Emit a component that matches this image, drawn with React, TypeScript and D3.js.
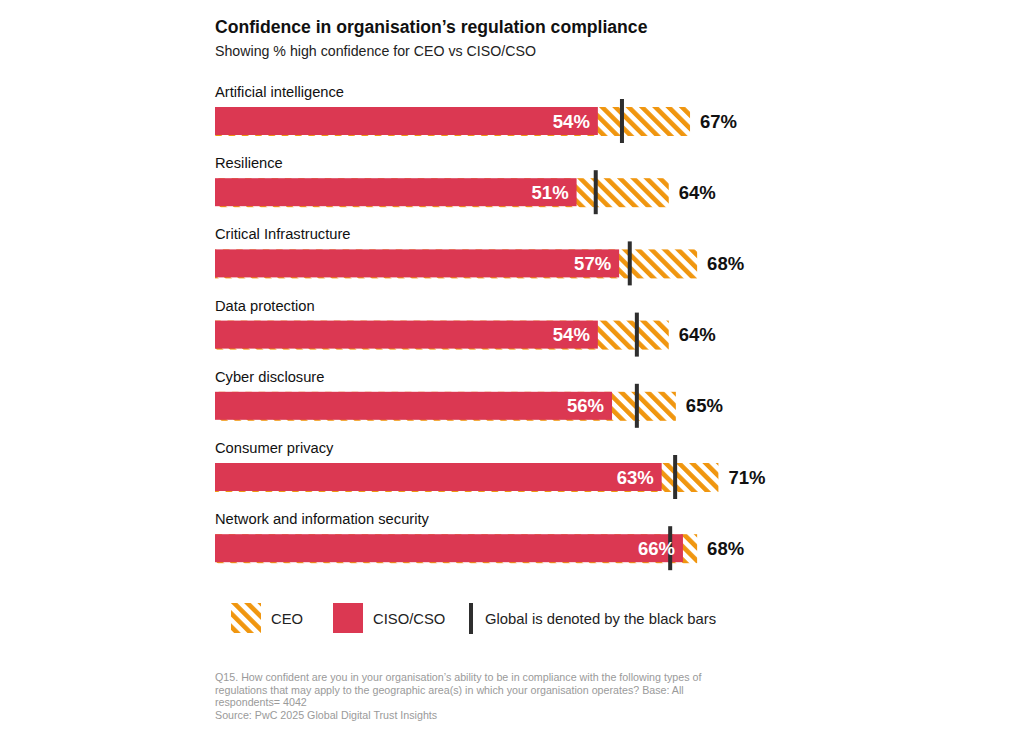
import React from "react";
import * as d3 from "d3";

const categories = [
  "Artificial intelligence",
  "Resilience",
  "Critical Infrastructure",
  "Data protection",
  "Cyber disclosure",
  "Consumer privacy",
  "Network and information security",
];
const ceoValues = [67, 64, 68, 64, 65, 71, 68];
const cisoValues = [54, 51, 57, 54, 56, 63, 66];
const globalValues = [57.4, 53.7, 58.5, 59.5, 59.5, 64.9, 64.2];

const footnoteLines = [
  "Q15. How confident are you in your organisation\u2019s ability to be in compliance with the following types of",
  "regulations that may apply to the geographic area(s) in which your organisation operates? Base: All",
  "respondents= 4042",
  "Source: PwC 2025 Global Digital Trust Insights",
];

const RED = "#DB3852";
const ORANGE = "#F0960F";
const DARK = "#2E2E2E";
const FONT = "'Liberation Sans', Arial, Helvetica, sans-serif";

export default function App() {
  const W = 1024;
  const H = 736;
  const x = d3.scaleLinear().domain([0, 100]).range([215, 924]);
  const y = d3
    .scaleBand<string>()
    .domain(categories)
    .range([86, 86 + 71.2 * categories.length])
    .paddingInner(0);
  const barH = 28;
  const barOffset = 21;

  return (
    <svg
      width={W}
      height={H}
      style={{ position: "absolute", left: 0, top: 0, background: "#fff" }}
      fontFamily={FONT}
    >
      <defs>
        <pattern
          id="hatch"
          patternUnits="userSpaceOnUse"
          width={9.4}
          height={9.4}
          patternTransform="rotate(-45)"
        >
          <rect x={0} y={0} width={9.4} height={9.4} fill="#fff" />
          <rect x={0} y={0} width={4.6} height={9.4} fill={ORANGE} />
        </pattern>
      </defs>
      <rect width={W} height={H} fill="#fff" />
      <text x={215} y={33} fontSize={17.6} fontWeight={700} fill="#111">
        Confidence in organisation’s regulation compliance
      </text>
      <text x={215} y={56} fontSize={14.2} fill="#222">
        Showing % high confidence for CEO vs CISO/CSO
      </text>

      {categories.map((c, i) => {
        const top = (y(c) as number) + barOffset;
        const cy = top + barH / 2;
        return (
          <g key={c}>
            <text x={215} y={top - 10} fontSize={14.7} fill="#111">
              {c}
            </text>
            <rect
              x={x(0)}
              y={top}
              width={x(ceoValues[i]) - x(0)}
              height={barH + 1}
              fill="url(#hatch)"
            />
            <rect
              x={x(0)}
              y={top}
              width={x(cisoValues[i]) - x(0)}
              height={barH}
              fill={RED}
            />
            <rect
              x={x(globalValues[i]) - 2}
              y={cy - 22}
              width={4}
              height={44}
              fill={DARK}
            />
            <text
              x={x(cisoValues[i]) - 8}
              y={cy + 6.5}
              fontSize={18.5}
              fontWeight={600}
              fill="#fff"
              textAnchor="end"
            >
              {cisoValues[i]}%
            </text>
            <text
              x={x(ceoValues[i]) + 10}
              y={cy + 6.5}
              fontSize={18.5}
              fontWeight={700}
              fill="#111"
            >
              {ceoValues[i]}%
            </text>
          </g>
        );
      })}

      <g>
        <rect x={231} y={603} width={30} height={30} fill="url(#hatch)" />
        <text x={271} y={624} fontSize={14.8} fill="#222">
          CEO
        </text>
        <rect x={333} y={603} width={30} height={30} fill={RED} />
        <text x={373} y={624} fontSize={14.8} fill="#222">
          CISO/CSO
        </text>
        <rect x={469} y={603} width={4} height={31} fill={DARK} />
        <text x={485} y={624} fontSize={14.8} fill="#222">
          Global is denoted by the black bars
        </text>
      </g>

      {footnoteLines.map((l, i) => (
        <text key={i} x={215} y={681 + i * 12.6} fontSize={10.7} fill="#9A9A9A">
          {l}
        </text>
      ))}
    </svg>
  );
}
